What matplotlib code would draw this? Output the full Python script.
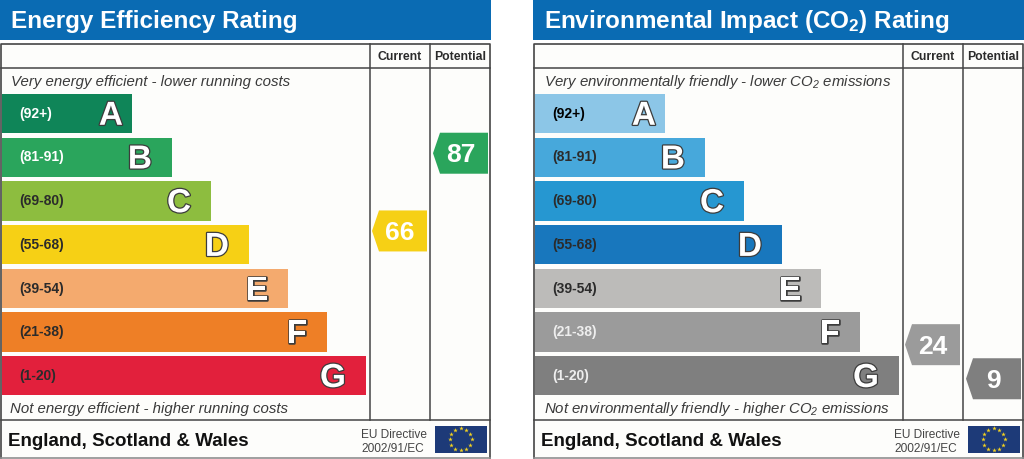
import numpy as np
import matplotlib
matplotlib.use('Agg')
import matplotlib.pyplot as plt
import matplotlib.patheffects as pe
from matplotlib.patches import Rectangle, Polygon

plt.rcParams['font.family'] = ['Liberation Sans', 'DejaVu Sans']
plt.rcParams['mathtext.fontset'] = 'custom'
plt.rcParams['mathtext.rm'] = 'Liberation Sans'
plt.rcParams['mathtext.bf'] = 'Liberation Sans:bold'
plt.rcParams['mathtext.default'] = 'regular'

# 数据
letters = ['A', 'B', 'C', 'D', 'E', 'F', 'G']
ranges = ['(92+)', '(81-91)', '(69-80)', '(55-68)', '(39-54)', '(21-38)', '(1-20)']
band_low = [92, 81, 69, 55, 39, 21, 1]
band_high = [100, 91, 80, 68, 54, 38, 20]
bar_lengths = [130, 170, 209, 247, 286, 325, 364]

energy_colors = ['#0f8558', '#2aa55c', '#8dbd3f', '#f6d015', '#f4aa6e', '#ee7f26', '#e2203c']
co2_colors = ['#8cc6e7', '#47a8db', '#2697d1', '#1877bd', '#bcbbb9', '#9b9b9b', '#7f7f7f']
energy_label_colors = ['white', 'white', '#2b2b2b', '#2b2b2b', '#2b2b2b', '#2b2b2b', '#2b2b2b']
co2_label_colors = ['black', '#2b2b2b', '#2b2b2b', '#2b2b2b', '#2b2b2b', '#eeeeee', '#eeeeee']

energy_current, energy_potential = 66, 87
co2_current, co2_potential = 24, 9

LINE = '#454545'
BLUE = '#0a6bb3'
PANEL_BG = '#fdfdfb'


def rating_band(value):
    for i in range(len(letters)):
        if band_low[i] <= value <= band_high[i]:
            return i


def rating_y(value):
    # 评级箭头的中心位置: 在所属色带内线性定位
    i = rating_band(value)
    top = 94.8 + i * 43.7
    return top + (band_high[i] - value) / (band_high[i] - band_low[i]) * 39.3


def draw_arrow(ax, x0, value, colors):
    yc = rating_y(value)
    pts = [(x0, yc), (x0 + 7, yc - 20.5), (x0 + 55, yc - 20.5), (x0 + 55, yc + 20.5), (x0 + 7, yc + 20.5)]
    ax.add_patch(Polygon(pts, closed=True, facecolor=colors[rating_band(value)], edgecolor='none', zorder=3))
    ax.text(x0 + 27.5, yc + 1, str(value), color='white', fontsize=19, fontweight='bold',
            ha='center', va='center', zorder=4)


def draw_panel(ax, x0, title, top_text, bottom_text, colors, label_colors, current, potential):
    ax.add_patch(Rectangle((x0, 0), 490.5, 41, facecolor=BLUE, edgecolor='none'))
    ax.text(x0 + 11, 28, title, color='white', fontsize=17.5, fontweight='bold', va='baseline')

    ax.add_patch(Rectangle((x0 + 1, 44.5), 489, 414, facecolor=PANEL_BG, edgecolor='none'))
    ax.plot([x0 + 1, x0 + 1, x0 + 490, x0 + 490], [459, 44.5, 44.5, 459], color=LINE, lw=1.2)
    ax.plot([x0 + 1, x0 + 490], [458.8, 458.8], color='#8f8f8f', lw=1.2)
    ax.plot([x0 + 1, x0 + 490], [69, 69], color=LINE, lw=1.1)
    ax.plot([x0 + 1, x0 + 490], [420.5, 420.5], color=LINE, lw=1.1)
    for cx in [370, 430]:
        ax.plot([x0 + cx, x0 + cx], [44.5, 420.5], color=LINE, lw=1.1)

    ax.text(x0 + 399.5, 57, 'Current', color='#2b2b2b', fontsize=8.8, fontweight='bold', ha='center', va='center')
    ax.text(x0 + 460, 57, 'Potential', color='#2b2b2b', fontsize=8.8, fontweight='bold', ha='center', va='center')

    ax.text(x0 + 11, 86, top_text, color='#3a3a3a', fontsize=10.8, style='italic', va='baseline')
    ax.text(x0 + 10.5, 413, bottom_text, color='#3a3a3a', fontsize=10.8, style='italic', va='baseline')

    # 色带
    ys = 94.8 + np.arange(len(letters)) * 43.7
    ax.barh(ys, bar_lengths, height=39.3, left=x0 + 2, align='edge', color=colors, edgecolor='none', zorder=2)
    for i, letter in enumerate(letters):
        ax.text(x0 + 19, ys[i] + 19, ranges[i], color=label_colors[i], fontsize=10,
                fontweight='bold', va='center', zorder=4)
        gap = 9 if letter == 'A' else 20
        ax.text(x0 + 2 + bar_lengths[i] - gap, ys[i] + 31, letter, color='white', fontsize=24,
                fontweight='bold', ha='right', va='baseline', zorder=4,
                path_effects=[pe.Stroke(linewidth=1.8, foreground='#3c3c3c'), pe.Normal()])

    draw_arrow(ax, x0 + 372, current, colors)
    draw_arrow(ax, x0 + 433, potential, colors)

    # 页脚
    ax.text(x0 + 8, 446, 'England, Scotland & Wales', color='#111111', fontsize=13.5, fontweight='bold', va='baseline')
    ax.text(x0 + 361, 438, 'EU Directive', color='#444444', fontsize=8.6, va='baseline')
    ax.text(x0 + 361, 452, '2002/91/EC', color='#444444', fontsize=8.6, va='baseline')
    ax.add_patch(Rectangle((x0 + 435, 426.7), 51.5, 27.5, facecolor='#1d3a78', edgecolor='none'))
    angles = np.arange(12) * np.pi / 6
    ax.scatter(x0 + 460.5 + 11 * np.cos(angles), 440.3 + 11 * np.sin(angles), marker='*', s=12,
               color='#f3d21f', linewidths=0, zorder=4)


fig = plt.figure(figsize=(10.24, 4.6), dpi=100)
ax = fig.add_axes([0, 0, 1, 1])
ax.set_xlim(0, 1024)
ax.set_ylim(460, 0)
ax.axis('off')

draw_panel(ax, 0, 'Energy Efficiency Rating',
           'Very energy efficient - lower running costs',
           'Not energy efficient - higher running costs',
           energy_colors, energy_label_colors, energy_current, energy_potential)
draw_panel(ax, 533, 'Environmental Impact (CO$\\mathbf{_2}$) Rating',
           'Very environmentally friendly - lower CO$_2$ emissions',
           'Not environmentally friendly - higher CO$_2$ emissions',
           co2_colors, co2_label_colors, co2_current, co2_potential)

plt.savefig('out.png', dpi=100)
plt.close()
